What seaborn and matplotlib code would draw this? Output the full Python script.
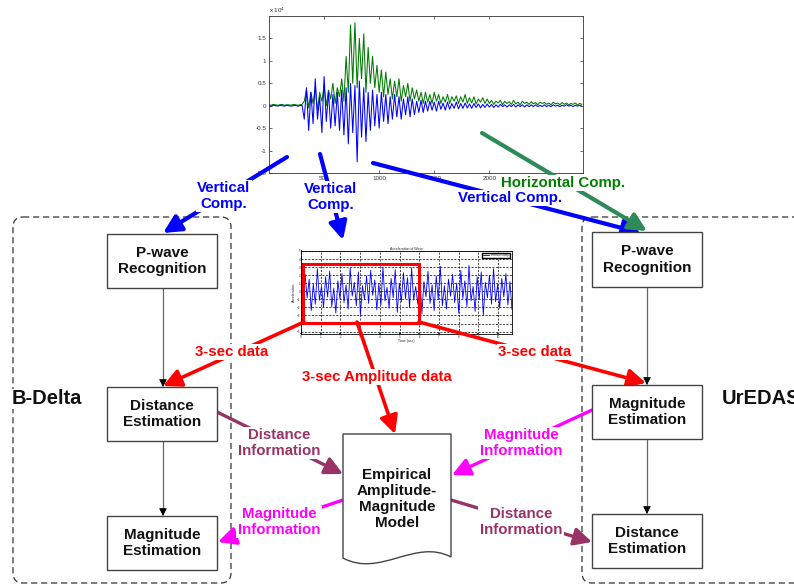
import numpy as np
import matplotlib
matplotlib.use("Agg")
import matplotlib.pyplot as plt
import seaborn as sns
from matplotlib.patches import FancyArrowPatch, FancyBboxPatch, Rectangle, PathPatch
from matplotlib.path import Path

# ---- data ----
# seismogram (x 10^4 counts), one value every 20 samples
horiz_comp = [0.02, 0.01, 0.03, 0.02, 0.01, 0.02, 0.03, 0.01, 0.02, 0.02, 0.01, 0.03, 0.02, 0.01, 0.02, 0.03,
              0.1, 0.35, -0.05, 0.3, 0.05, 0.4, -0.1, 0.3, 0.1, 0.45, 0.0, 0.35, 0.15, 0.5, 0.05, 0.4, 0.2, 0.6, 0.1,
              1.1, 0.3, 1.8, 0.5, 1.85, 0.4, 1.5, 0.6, 1.6, 0.3, 1.3, 0.5, 1.1, 0.4, 0.9,
              0.3, 0.8, 0.2, 0.75, 0.25, 0.6, 0.15, 0.55, 0.2, 0.6, 0.1, 0.45, 0.2, 0.5, 0.1, 0.4, 0.15, 0.35, 0.1, 0.3,
              0.05, 0.3, 0.08, 0.25, 0.05, 0.3, 0.1, 0.25, 0.05, 0.2, 0.08, 0.25, 0.05, 0.2, 0.1, 0.22, 0.05, 0.2,
              0.08, 0.25, 0.05, 0.18, 0.06, 0.2, 0.04, 0.15, 0.08, 0.18, 0.05, 0.15,
              0.05, 0.12, 0.03, 0.1, 0.06, 0.12, 0.02, 0.1, 0.05, 0.09, 0.03, 0.12, 0.04, 0.08, 0.02, 0.1, 0.05, 0.08,
              0.03, 0.09, 0.04, 0.07, 0.02, 0.08, 0.05, 0.07, 0.03, 0.06, 0.02, 0.08, 0.04, 0.06, 0.02, 0.07, 0.03,
              0.06, 0.02, 0.05, 0.03, 0.06, 0.02, 0.05, 0.03]
vert_comp = [0.0, -0.01, 0.01, 0.0, -0.01, 0.01, 0.0, -0.01, 0.01, 0.0, -0.01, 0.0, 0.01, -0.01, 0.0, 0.01,
             -0.3, 0.4, -0.55, 0.3, -0.4, 0.6, -0.3, 0.2, -0.6, 0.65, -0.35, 0.3, -0.5, 0.25, -0.45, 0.3, -0.55, 0.35, -0.65,
             0.4, -0.85, 0.5, -0.6, 0.45, -1.25, 0.55, -0.7, 0.4, -0.8, 0.3, -0.55, 0.35, -0.45, 0.25,
             -0.5, 0.3, -0.35, 0.25, -0.4, 0.2, -0.3, 0.25, -0.25, 0.2, -0.3, 0.15, -0.2, 0.2, -0.25, 0.15, -0.2, 0.1, -0.15, 0.12,
             -0.15, 0.1, -0.12, 0.1, -0.1, 0.08, -0.12, 0.1, -0.08, 0.06, -0.1, 0.08, -0.08, 0.05, -0.06, 0.08, -0.07, 0.05,
             -0.06, 0.06, -0.05, 0.04, -0.06, 0.05, -0.04, 0.04, -0.05, 0.03, -0.04, 0.04,
             -0.03, 0.03, -0.04, 0.02, -0.03, 0.03, -0.02, 0.02, -0.03, 0.02, -0.02, 0.03, -0.03, 0.02, -0.02, 0.02,
             -0.03, 0.02, -0.02, 0.02, -0.02, 0.02, -0.02, 0.01, -0.02, 0.02, -0.02, 0.01, -0.02, 0.02, -0.01, 0.01,
             -0.02, 0.01, -0.01, 0.02, -0.01, 0.01, -0.02, 0.01, -0.01, 0.01, -0.01]
seis_step = 20

# 3-sec window signal
window_sig = [0.5, -1.2, 2.1, -0.8, 1.5, -2.4, 0.9, -1.6, 2.8, -1.1, 0.6, -2.0, 1.8, -0.7, 2.5, -1.9, 0.4, -2.7,
              1.3, -0.9, 2.2, -1.4, 0.8, -2.2, 2.9, -0.6, 1.1, -1.8, 2.4, -2.9, 0.7, -1.0, 1.9, -1.5, 2.6, -0.5,
              1.4, -2.3, 0.9, -1.7, 3.0, -1.2, 0.5, -2.1, 1.6, -0.8, 2.7, -2.6, 1.0, -1.3, 2.3, -0.9, 1.7, -2.0,
              2.9, -1.1, 0.6, -1.6, 2.0, -2.8, 1.2, -0.7, 2.5, -1.5, 0.8, -2.4, 1.9, -1.0, 3.1, -1.8, 0.7, -2.2,
              1.5, -0.6, 2.1, -1.4, 1.0, -2.7, 2.6, -0.9, 1.3, -1.9, 3.2, -1.2, 0.6, -2.5, 1.8, -1.0, 2.4, -3.0,
              1.1, -0.8, 2.0, -1.6, 2.8, -1.3, 0.9, -2.1, 1.6, -0.7, 2.2, -1.7, 1.2, -2.3]
window_len = 10.7

BLUE = "#0000FF"
GREEN_LINE = "#2E8B57"
GREEN_TXT = "#008000"
RED = "#FF0000"
PURPLE = "#993366"
MAGENTA = "#FF00FF"

sns.set_theme(style="white")
plt.rcParams['font.family'] = ['Liberation Sans', 'DejaVu Sans']

fig = plt.figure(figsize=(7.94, 5.86), dpi=100)
W, H = 794, 586


def fig_rect(x0, y0, x1, y1):
    return [x0 / W, 1 - y1 / H, (x1 - x0) / W, (y1 - y0) / H]


# ---- top seismogram ----
ax1 = fig.add_axes(fig_rect(269, 16, 583, 173))
t = np.arange(len(horiz_comp)) * seis_step
sns.lineplot(x=t, y=horiz_comp, ax=ax1, color="#007A00", lw=0.75, estimator=None)
sns.lineplot(x=np.arange(len(vert_comp)) * seis_step, y=vert_comp, ax=ax1, color=BLUE, lw=0.75, estimator=None)
ax1.set_xlim(0, 2850)
ax1.set_ylim(-1.5, 2.0)
ax1.set_yticks([-1.5, -1, -0.5, 0, 0.5, 1, 1.5])
ax1.set_yticklabels(["-1.5", "-1", "-0.5", "0", "0.5", "1", "1.5"])
ax1.set_xticks([500, 1000, 1500, 2000])
ax1.tick_params(labelsize=4.5, direction="in", length=2, width=0.5, top=True, right=True,
                left=True, bottom=True, pad=2, colors="#333333")
for s in ax1.spines.values():
    s.set_linewidth(0.6)
    s.set_color("#333333")
ax1.text(0.0, 1.02, r"x 10$^4$", transform=ax1.transAxes, fontsize=4.5, color="#333333")

# ---- 3-sec window chart ----
ax2 = fig.add_axes(fig_rect(301, 251, 512, 334))
tw = np.linspace(0, window_len, len(window_sig))
sns.lineplot(x=tw, y=window_sig, ax=ax2, color=BLUE, lw=0.6, estimator=None, label="vertical comp.")
ax2.set_xlim(0, window_len)
ax2.set_ylim(-5.3, 5)
ax2.set_xticks(range(0, 11))
ax2.set_yticks(range(-5, 6))
ax2.grid(True, color="black", linestyle="--", lw=0.5, dashes=(3, 2))
ax2.tick_params(labelsize=2.2, length=1, pad=0.5, direction="in", left=True, bottom=True)
ax2.set_title("Acceleration of Wave", fontsize=2.5, pad=1)
ax2.set_xlabel("Time (sec)", fontsize=2.5, labelpad=0.5)
ax2.set_ylabel("Acceleration", fontsize=2.5, labelpad=0.5)
ax2.legend(loc="upper right", fontsize=2.2, frameon=True, handlelength=2, borderpad=0.2, fancybox=False,
           edgecolor="black", framealpha=1)
for s in ax2.spines.values():
    s.set_linewidth(0.6)
    s.set_color("black")

# ---- overlay for flowchart ----
ov = fig.add_axes([0, 0, 1, 1], zorder=10)
ov.set_xlim(0, W)
ov.set_ylim(H, 0)
ov.axis("off")
ov.patch.set_alpha(0)

# dashed group frames
for x0, x1 in [(13, 231), (582, 820)]:
    ov.add_patch(FancyBboxPatch((x0, 217), x1 - x0, 366, boxstyle="round,pad=0,rounding_size=10",
                                fill=False, ec="#333333", lw=0.9, ls=(0, (5, 3))))

boxes = [
    (107, 234, 217, 288, "P-wave\nRecognition"),
    (107, 387, 217, 441, "Distance\nEstimation"),
    (107, 516, 217, 570, "Magnitude\nEstimation"),
    (592, 232, 702, 287, "P-wave\nRecognition"),
    (592, 385, 702, 439, "Magnitude\nEstimation"),
    (592, 514, 702, 568, "Distance\nEstimation"),
]
for x0, y0, x1, y1, txt in boxes:
    ov.add_patch(Rectangle((x0, y0), x1 - x0, y1 - y0, fill=True, fc="white", ec="#444444", lw=1.0, zorder=3))
    ov.text((x0 + x1) / 2, (y0 + y1) / 2, txt, ha="center", va="center", fontsize=11,
            fontweight="bold", color="#111111", linespacing=1.25, zorder=4)

# document shape
verts = [(343, 434), (451, 434), (451, 557), (415, 538), (380, 578), (343, 558), (343, 434)]
codes = [Path.MOVETO, Path.LINETO, Path.LINETO, Path.CURVE4, Path.CURVE4, Path.CURVE4, Path.CLOSEPOLY]
ov.add_patch(PathPatch(Path(verts, codes), fc="white", ec="#444444", lw=1.0, zorder=3))
ov.text(397, 499, "Empirical\nAmplitude-\nMagnitude\nModel", ha="center", va="center", fontsize=11,
        fontweight="bold", color="#111111", linespacing=1.2, zorder=4)


def arrow(p0, p1, color, lw, hl=0.9, hw=0.45, ms=12, z=2):
    ov.add_patch(FancyArrowPatch(p0, p1, arrowstyle=f"-|>,head_length={hl},head_width={hw}",
                                 mutation_scale=ms, color=color, lw=lw, shrinkA=0, shrinkB=0, zorder=z))


# thin vertical flow arrows
for x, ya, yb in [(163, 288, 387), (163, 441, 516), (647, 287, 385), (647, 439, 514)]:
    ov.plot([x, x], [ya, yb - 4], color="#666666", lw=0.9, zorder=2)
    arrow((x, yb - 5), (x, yb), "black", 0.5, hl=0.6, hw=0.3, ms=8)

# blue / green input arrows
arrow((287, 157), (163, 233), BLUE, 3)
arrow((320, 154), (343, 240), BLUE, 3)
arrow((373, 163), (641, 233), BLUE, 3)
arrow((482, 133), (647, 231), GREEN_LINE, 3)

# red 3-sec data arrows
ov.add_patch(Rectangle((303, 264), 116, 59, fill=False, ec=RED, lw=2.2, zorder=2))
arrow((304, 322), (163, 386), RED, 2.6)
arrow((357, 322), (395, 434), RED, 2.6)
arrow((419, 322), (646, 383), RED, 2.6)

# information arrows
arrow((217, 412), (343, 474), PURPLE, 2.4)
arrow((592, 410), (452, 475), MAGENTA, 2.4)
arrow((343, 500), (218, 542), MAGENTA, 2.4)
arrow((451, 500), (592, 542), PURPLE, 2.4)

lab = dict(ha="center", va="center", fontweight="bold", zorder=5, linespacing=1.1,
           bbox=dict(fc="white", ec="none", pad=1))
fs = 10.8
ov.text(224, 196, "Vertical\nComp.", color=BLUE, fontsize=fs, **lab)
ov.text(331, 197, "Vertical\nComp.", color=BLUE, fontsize=fs, **lab)
ov.text(510, 198, "Vertical Comp.", color=BLUE, fontsize=fs, **lab)
ov.text(563, 183, "Horizontal Comp.", color=GREEN_TXT, fontsize=fs, **lab)
ov.text(232, 352, "3-sec data", color=RED, fontsize=fs, **lab)
ov.text(377, 377, "3-sec Amplitude data", color=RED, fontsize=fs, **lab)
ov.text(535, 352, "3-sec data", color=RED, fontsize=fs, **lab)
ov.text(279, 443, "Distance\nInformation", color=PURPLE, fontsize=fs, **lab)
ov.text(279, 522, "Magnitude\nInformation", color=MAGENTA, fontsize=fs, **lab)
ov.text(521, 443, "Magnitude\nInformation", color=MAGENTA, fontsize=fs, **lab)
ov.text(521, 522, "Distance\nInformation", color=PURPLE, fontsize=fs, **lab)

ov.text(12, 399, "B-Delta", ha="left", va="center", fontsize=14.5, fontweight="bold", color="#111111",
        zorder=5, bbox=dict(fc="white", ec="none", pad=0.5))
ov.text(722, 399, "UrEDAS", ha="left", va="center", fontsize=14.5, fontweight="bold", color="#111111",
        zorder=5, clip_on=False)

fig.savefig("out.png", dpi=100, facecolor="white")
